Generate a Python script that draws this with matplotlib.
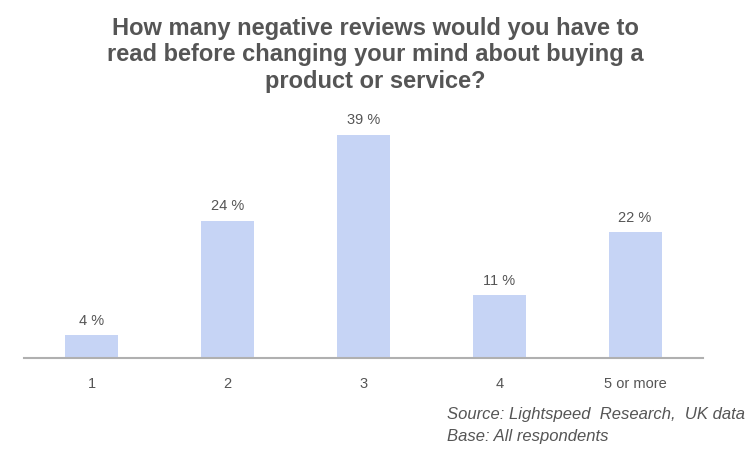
import matplotlib
matplotlib.use("Agg")
import matplotlib.pyplot as plt

categories = ["1", "2", "3", "4", "5 or more"]
values = [4, 24, 39, 11, 22]
title = "How many negative reviews would you have to\nread before changing your mind about buying a\nproduct or service?"
source_lines = ["Source: Lightspeed  Research,  UK data", "Base: All respondents"]

W, H = 750, 463
fig = plt.figure(figsize=(W / 100, H / 100), dpi=100)
plt.rcParams['font.family'] = ['Liberation Sans', 'DejaVu Sans']

left, right, base = 24, 703, 358
ppu = 5.72
ymax = 45
top = base - ymax * ppu
ax = fig.add_axes([left / W, 1 - base / H, (right - left) / W, (base - top) / H])

x = list(range(len(categories)))
bars = ax.bar(x, values, width=0.39, color="#c6d4f5", zorder=2)
ax.set_xlim(-0.5, len(categories) - 0.5)
ax.set_ylim(0, ymax)
for xi, v in zip(x, values):
    ax.text(xi, v + 1.3, f"{v} %", ha="center", va="bottom", fontsize=10.5, color="#555555")

for s in ["top", "right", "left"]:
    ax.spines[s].set_visible(False)
ax.spines["bottom"].set_color("#b0b0b0")
ax.spines["bottom"].set_linewidth(1.5)
ax.set_yticks([])
ax.set_xticks(x)
ax.set_xticklabels(categories, fontsize=10.5, color="#555555")
ax.tick_params(axis="x", length=0, pad=14)

fig.text(0.5, 1 - 55 / H, title, ha="center", va="center", fontsize=17,
         fontweight="bold", color="#555555", linespacing=1.22)
fig.text(447 / W, 1 - 415 / H, source_lines[0], ha="left", va="center", fontsize=12,
         style="italic", color="#555555")
fig.text(447 / W, 1 - 437 / H, source_lines[1], ha="left", va="center", fontsize=12,
         style="italic", color="#555555")

fig.savefig("out.png", dpi=100)
